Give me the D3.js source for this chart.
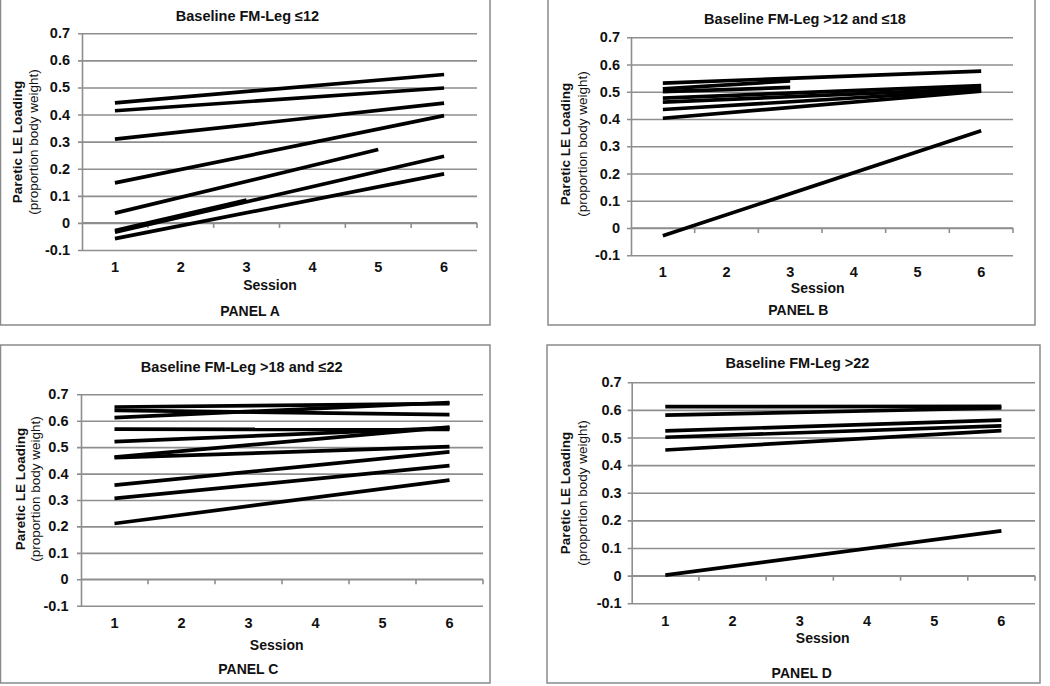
<!DOCTYPE html>
<html>
<head>
<meta charset="utf-8">
<script src="https://cdn.jsdelivr.net/npm/d3@7/dist/d3.min.js"></script>
<style>
  html, body { margin: 0; padding: 0; background: #fff; }
  svg { display: block; }
  text { font-family: "Liberation Sans", Arial, sans-serif; fill: #111; }
</style>
</head>
<body>
<svg id="chart" width="1050" height="686"></svg>
<script>
// ---------- DATA ----------
const sessions = [1, 2, 3, 4, 5, 6];
const yTickValues = [-0.1, 0, 0.1, 0.2, 0.3, 0.4, 0.5, 0.6, 0.7];
const yTickLabels = ["-0.1", "0", "0.1", "0.2", "0.3", "0.4", "0.5", "0.6", "0.7"];
const yTitle = "Paretic LE Loading";
const ySubTitle = "(proportion body weight)";
const xTitle = "Session";

const titles = ["Baseline FM-Leg \u226412", "Baseline FM-Leg >12 and \u226418",
                "Baseline FM-Leg >18 and \u226422", "Baseline FM-Leg >22"];
const panelLabels = ["PANEL A", "PANEL B", "PANEL C", "PANEL D"];

// each participant: [first session, value], [last session, value]
const panelA = [
  [[1, 0.443], [6, 0.548]],
  [[1, 0.414], [6, 0.498]],
  [[1, 0.309], [6, 0.442]],
  [[1, 0.148], [6, 0.396]],
  [[1, 0.036], [5, 0.271]],
  [[1, -0.028], [3, 0.084]],
  [[1, -0.034], [6, 0.246]],
  [[1, -0.058], [6, 0.181]]
];
const panelB = [
  [[1, 0.532], [6, 0.576]],
  [[1, 0.511], [3, 0.540]],
  [[1, 0.501], [3, 0.516]],
  [[1, 0.477], [6, 0.523]],
  [[1, 0.462], [6, 0.512]],
  [[1, 0.435], [6, 0.506]],
  [[1, 0.403], [6, 0.502]],
  [[1, -0.028], [6, 0.357]]
];
const panelC = [
  [[1, 0.652], [6, 0.665]],
  [[1, 0.639], [6, 0.623]],
  [[1, 0.612], [6, 0.669]],
  [[1, 0.568], [6, 0.567]],
  [[1, 0.521], [6, 0.573]],
  [[1, 0.462], [6, 0.576]],
  [[1, 0.460], [6, 0.502]],
  [[1, 0.356], [6, 0.482]],
  [[1, 0.306], [6, 0.430]],
  [[1, 0.211], [6, 0.375]]
];
const panelD = [
  [[1, 0.612], [6, 0.613]],
  [[1, 0.581], [6, 0.607]],
  [[1, 0.524], [6, 0.563]],
  [[1, 0.501], [6, 0.542]],
  [[1, 0.455], [6, 0.525]],
  [[1, 0.002], [6, 0.162]]
];
const panelData = [panelA, panelB, panelC, panelD];

// ---------- LAYOUT ----------
const layouts = [
  { box: [0.5, -1, 490, 325], plot: [82, 477, 33.3, 250], tickX: 70, xLabY: 267,
    title: [247.5, 15.7], session: [270, 285], panel: [250, 310.7], yT: [17, 33, 142] },
  { box: [548, -1, 1035, 325], plot: [631, 1013, 37.3, 255.3], tickX: 620, xLabY: 271.7,
    title: [805, 19.3], session: [817.7, 288.3], panel: [798.3, 310], yT: [565, 582, 144] },
  { box: [0.5, 345, 490, 683], plot: [81, 483, 394.3, 605.7], tickX: 68.5, xLabY: 622.7,
    title: [241.7, 367.3], session: [276.7, 645], panel: [248.3, 669.3], yT: [20, 35, 489] },
  { box: [547, 345, 1040, 683], plot: [631.7, 1035, 382.3, 603.3], tickX: 621.7, xLabY: 621,
    title: [797.5, 362.7], session: [822.7, 638.3], panel: [801.7, 673.3], yT: [565.7, 582.3, 493] }
];

const gridColor = "#8e8e8e";
const svg = d3.select("#chart");

layouts.forEach((L, i) => {
  const g = svg.append("g");
  const [bx0, by0, bx1, by1] = L.box;
  g.append("rect").attr("x", bx0).attr("y", by0).attr("width", bx1 - bx0).attr("height", by1 - by0)
    .attr("fill", "none").attr("stroke", "#8a8a8a").attr("stroke-width", 1.5);

  const [pl, pr, pt, pb] = L.plot;
  const x = d3.scaleBand().domain(sessions).range([pl, pr]);
  const xc = s => x(s) + x.bandwidth() / 2;
  const y = d3.scaleLinear().domain([-0.1, 0.7]).range([pb, pt]);

  // gridlines + y-axis
  const yAxis = d3.axisLeft(y).tickValues(yTickValues)
    .tickFormat((d, k) => yTickLabels[k]).tickSize(-(pr - pl)).tickSizeOuter(0).tickPadding(0);
  const ya = g.append("g").attr("transform", `translate(${pl},0)`).call(yAxis);
  ya.select(".domain").attr("stroke", gridColor).attr("stroke-width", 1.6);
  ya.selectAll(".tick line").attr("stroke", gridColor).attr("stroke-width", 1.6).attr("x1", -4);
  ya.selectAll(".tick text").remove();
  // tick labels
  g.selectAll(".ylab").data(yTickValues).enter().append("text")
    .attr("x", L.tickX).attr("y", d => y(d)).attr("text-anchor", "end")
    .attr("dominant-baseline", "central").style("font-size", "14.5px").style("font-weight", "bold")
    .text((d, k) => yTickLabels[k]);

  // x-axis at y = 0 with boundary ticks
  g.append("line").attr("x1", pl).attr("x2", pr).attr("y1", y(0)).attr("y2", y(0))
    .attr("stroke", gridColor).attr("stroke-width", 1.6);
  const bounds = sessions.map(s => x(s)).concat([pr]);
  g.selectAll(".xt").data(bounds.slice(1)).enter().append("line")
    .attr("x1", d => d).attr("x2", d => d).attr("y1", y(0)).attr("y2", y(0) + 5)
    .attr("stroke", gridColor).attr("stroke-width", 1.6);
  g.selectAll(".xlab").data(sessions).enter().append("text")
    .attr("x", d => xc(d)).attr("y", L.xLabY).attr("text-anchor", "middle")
    .attr("dominant-baseline", "central").style("font-size", "14.5px").style("font-weight", "bold")
    .text(d => d);

  // data lines
  const line = d3.line().x(d => xc(d[0])).y(d => y(d[1]));
  g.selectAll(".series").data(panelData[i]).enter().append("path")
    .attr("d", line).attr("fill", "none").attr("stroke", "#000").attr("stroke-width", 3.7)
    .attr("stroke-linecap", "butt");

  // texts
  g.append("text").attr("x", L.title[0]).attr("y", L.title[1]).attr("text-anchor", "middle")
    .attr("dominant-baseline", "central").style("font-size", "14.5px").style("font-weight", "bold")
    .text(titles[i]);
  g.append("text").attr("x", L.session[0]).attr("y", L.session[1]).attr("text-anchor", "middle")
    .attr("dominant-baseline", "central").style("font-size", "14px").style("font-weight", "bold")
    .text(xTitle);
  g.append("text").attr("x", L.panel[0]).attr("y", L.panel[1]).attr("text-anchor", "middle")
    .attr("dominant-baseline", "central").style("font-size", "14px").style("font-weight", "bold")
    .text(panelLabels[i]);
  g.append("text").attr("transform", `translate(${L.yT[0]},${L.yT[2]}) rotate(-90)`)
    .attr("text-anchor", "middle").attr("dominant-baseline", "central")
    .style("font-size", "13.5px").style("font-weight", "bold").text(yTitle);
  g.append("text").attr("transform", `translate(${L.yT[1]},${L.yT[2]}) rotate(-90)`)
    .attr("text-anchor", "middle").attr("dominant-baseline", "central")
    .style("font-size", "13.5px").text(ySubTitle);
});
</script>
</body>
</html>
